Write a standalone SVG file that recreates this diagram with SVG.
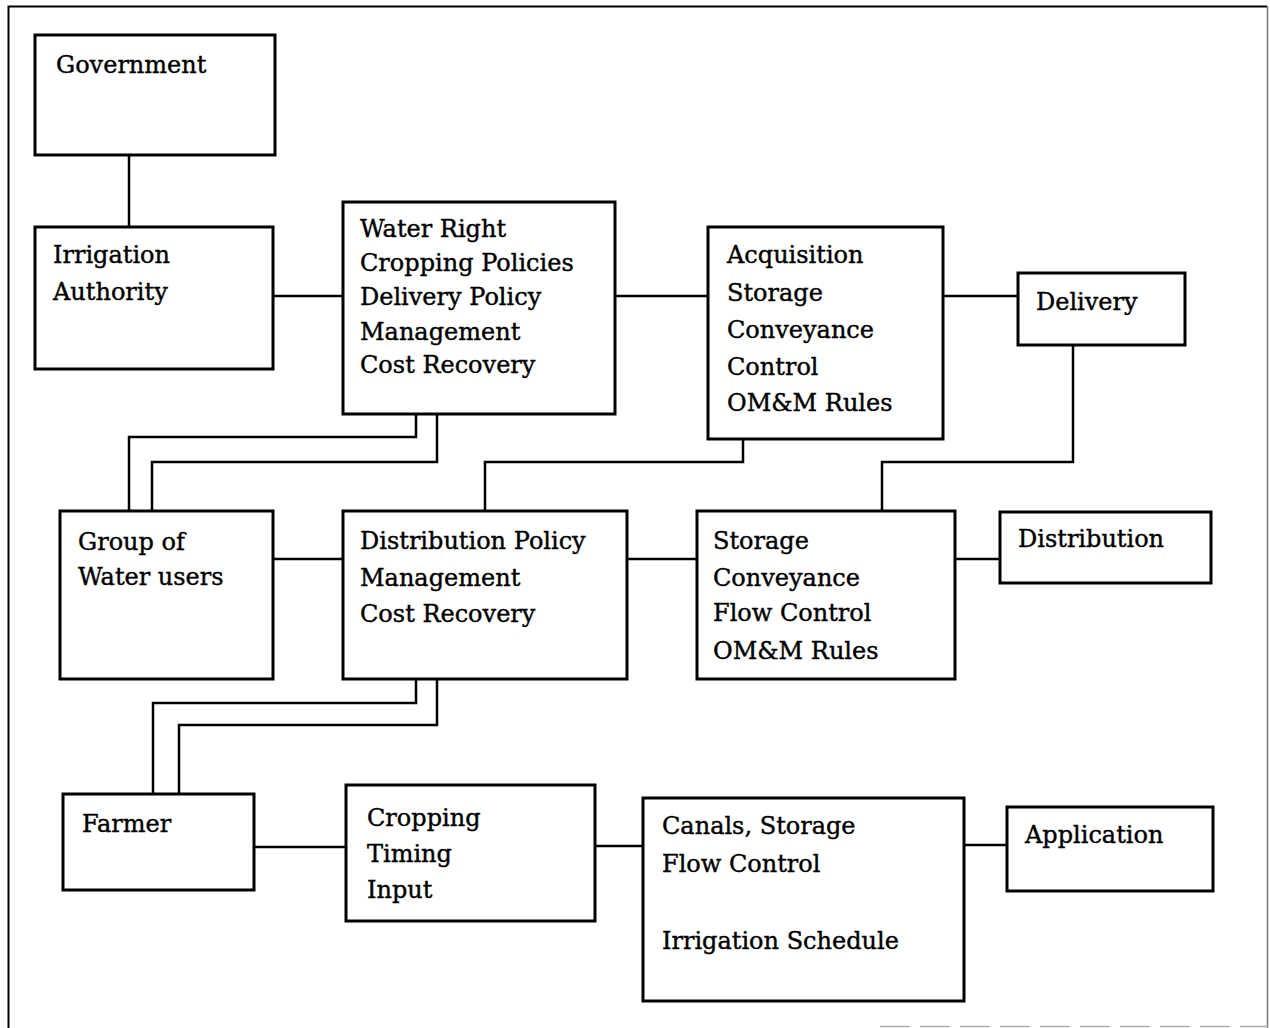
<svg xmlns="http://www.w3.org/2000/svg" width="1270" height="1028" viewBox="0 0 1270 1028">
<style>
.box{fill:#fff;stroke:#000;stroke-width:3}
.lbl{font-family:"DejaVu Serif","Liberation Serif",serif;font-size:24px;fill:#000;stroke:#000;stroke-width:0.4}
.con{fill:none;stroke:#000;stroke-width:2.5}
.frame{fill:none;stroke:#000;stroke-width:2}
</style>
<rect x="0" y="0" width="1270" height="1028" fill="#fff"/>
<g id="frame">
<path class="frame" d="M8.5,1028 V6.5 H1267"/>
<path d="M1267.5,6 V1028" stroke="#777" stroke-width="1.5" fill="none"/>
<path d="M880,1026.5 H1268" stroke="#aaa" stroke-width="1.5" stroke-dasharray="30,10" fill="none"/>
</g>
<g id="connectors">
<path class="con" d="M129,155 V227"/>
<path class="con" d="M273,296 H343"/>
<path class="con" d="M615,296 H708"/>
<path class="con" d="M943,296 H1018"/>
<path class="con" d="M1073,345 V462 H882 V510"/>
<path class="con" d="M743,439 V462 H485 V510"/>
<path class="con" d="M416,414 V437 H129 V510"/>
<path class="con" d="M437,414 V462 H152 V510"/>
<path class="con" d="M273,559 H343"/>
<path class="con" d="M627,559 H697"/>
<path class="con" d="M955,559 H1000"/>
<path class="con" d="M416,679 V703 H153 V795"/>
<path class="con" d="M437,679 V725 H179 V795"/>
<path class="con" d="M254,847 H346"/>
<path class="con" d="M595,846 H643"/>
<path class="con" d="M964,845 H1007"/>
</g>
<g id="government">
<rect class="box" x="35" y="35" width="240" height="120"/>
<text class="lbl" x="56" y="73">Government</text>
</g>
<g id="irrigation-authority">
<rect class="box" x="35" y="227" width="238" height="142"/>
<text class="lbl" x="53" y="263">Irrigation</text>
<text class="lbl" x="53" y="300">Authority</text>
</g>
<g id="water-right">
<rect class="box" x="343" y="202" width="272" height="212"/>
<text class="lbl" x="360" y="237">Water Right</text>
<text class="lbl" x="360" y="271">Cropping Policies</text>
<text class="lbl" x="360" y="305">Delivery Policy</text>
<text class="lbl" x="360" y="340">Management</text>
<text class="lbl" x="360" y="373">Cost Recovery</text>
</g>
<g id="acquisition">
<rect class="box" x="708" y="227" width="235" height="212"/>
<text class="lbl" x="727" y="263">Acquisition</text>
<text class="lbl" x="727" y="301">Storage</text>
<text class="lbl" x="727" y="338">Conveyance</text>
<text class="lbl" x="727" y="375">Control</text>
<text class="lbl" x="727" y="411">OM&amp;M Rules</text>
</g>
<g id="delivery">
<rect class="box" x="1018" y="273" width="167" height="72"/>
<text class="lbl" x="1036" y="310">Delivery</text>
</g>
<g id="group-of-water-users">
<rect class="box" x="60" y="511" width="213" height="168"/>
<text class="lbl" x="78" y="550">Group of</text>
<text class="lbl" x="78" y="585">Water users</text>
</g>
<g id="distribution-policy">
<rect class="box" x="343" y="511" width="284" height="168"/>
<text class="lbl" x="360" y="549">Distribution Policy</text>
<text class="lbl" x="360" y="586">Management</text>
<text class="lbl" x="360" y="622">Cost Recovery</text>
</g>
<g id="storage">
<rect class="box" x="697" y="511" width="258" height="168"/>
<text class="lbl" x="713" y="549">Storage</text>
<text class="lbl" x="713" y="586">Conveyance</text>
<text class="lbl" x="713" y="621">Flow Control</text>
<text class="lbl" x="713" y="659">OM&amp;M Rules</text>
</g>
<g id="distribution">
<rect class="box" x="1000" y="512" width="211" height="71"/>
<text class="lbl" x="1018" y="547">Distribution</text>
</g>
<g id="farmer">
<rect class="box" x="63" y="794" width="191" height="96"/>
<text class="lbl" x="82" y="832">Farmer</text>
</g>
<g id="cropping">
<rect class="box" x="346" y="785" width="249" height="136"/>
<text class="lbl" x="367" y="826">Cropping</text>
<text class="lbl" x="367" y="862">Timing</text>
<text class="lbl" x="367" y="898">Input</text>
</g>
<g id="canals">
<rect class="box" x="643" y="798" width="321" height="203"/>
<text class="lbl" x="662" y="834">Canals, Storage</text>
<text class="lbl" x="662" y="872">Flow Control</text>
<text class="lbl" x="662" y="949">Irrigation Schedule</text>
</g>
<g id="application">
<rect class="box" x="1007" y="807" width="206" height="84"/>
<text class="lbl" x="1025" y="843">Application</text>
</g>
</svg>
